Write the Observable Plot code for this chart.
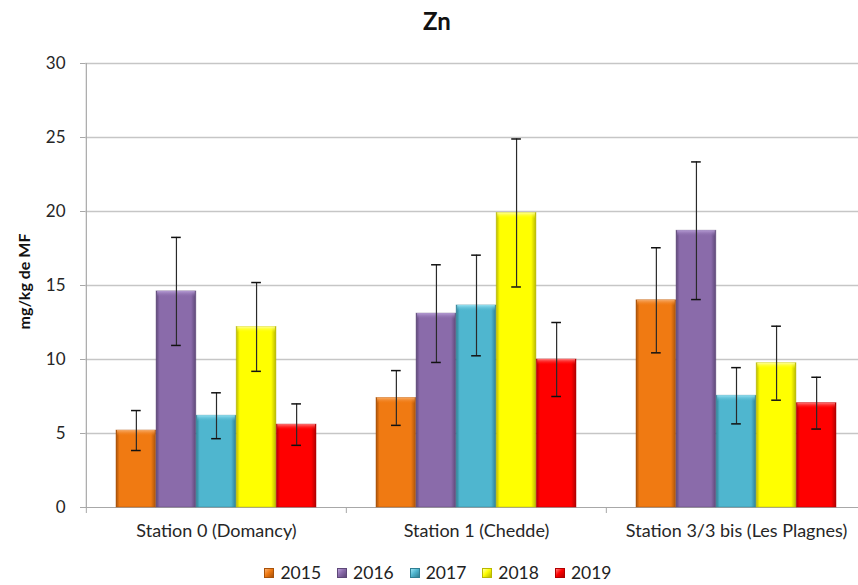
<!DOCTYPE html>
<html>
<head>
<meta charset="utf-8">
<script src="https://cdn.jsdelivr.net/npm/d3@7"></script>
<script src="https://cdn.jsdelivr.net/npm/@observablehq/plot@0.6"></script>
<style>
  html, body { margin: 0; padding: 0; background: #fff; }
  #wrap { position: relative; width: 858px; height: 585px; overflow: hidden; font-family: Lato, "Open Sans", sans-serif; }
  #title { position: absolute; left: 0; top: 6px; width: 874px; text-align: center; font-weight: bold; font-size: 24px; color: #111; }
  #chart { position: absolute; left: 0; top: 0; }
  #legend { position: absolute; left: 0; top: 562px; width: 876px; display: flex; justify-content: center; gap: 0; font-size: 17.5px; color: #222; }
  .item { display: flex; align-items: center; margin: 0 8px; }
  .sw { width: 10px; height: 10px; margin-right: 6px; box-sizing: border-box; }
</style>
</head>
<body>
<div id="wrap">
  <div id="chart"></div>
  <div id="title">Zn</div>
  <div id="legend"></div>
</div>
<script>
// ---- data ----
const stations = ["Station 0 (Domancy)", "Station 1 (Chedde)", "Station 3/3 bis (Les Plagnes)"];
const years = ["2015", "2016", "2017", "2018", "2019"];
const mean2015 = [5.2, 7.4, 14.0];
const mean2016 = [14.6, 13.1, 18.7];
const mean2017 = [6.2, 13.65, 7.55];
const mean2018 = [12.2, 19.9, 9.75];
const mean2019 = [5.6, 10.0, 7.05];
const err2015 = [1.35, 1.85, 3.55];
const err2016 = [3.65, 3.3, 4.65];
const err2017 = [1.55, 3.4, 1.9];
const err2018 = [3.0, 5.0, 2.5];
const err2019 = [1.4, 2.5, 1.75];
const yTicks = [0, 5, 10, 15, 20, 25, 30];
const yLabel = "mg/kg de MF";

// ---- styles ----
const colors = {"2015": "#F07A12", "2016": "#8A6BAA", "2017": "#4FB6CF", "2018": "#FFFF00", "2019": "#FF0000"};
const darks  = {"2015": "#A8520A", "2016": "#5E4878", "2017": "#2F7F93", "2018": "#B8B800", "2019": "#B00000"};
const lights = {"2015": "#F8B070", "2016": "#B9A0D8", "2017": "#9BE4F4", "2018": "#FFFFA8", "2019": "#FF8080"};

const means = [mean2015, mean2016, mean2017, mean2018, mean2019];
const errs = [err2015, err2016, err2017, err2018, err2019];
const rowsByYear = years.map((year, i) =>
  stations.map((station, j) => ({station, year, mean: means[i][j], err: errs[i][j]})));

const x0 = 85, x1 = 866;
const step = (x1 - x0) / stations.length;
const outer = 30;
const barW = (step - 2 * outer) / years.length;
const capHalf = 5;

const marks = [];
marks.push(Plot.ruleY(yTicks.filter(d => d > 0), {stroke: "#c6c6c6", strokeWidth: 1.6}));
marks.push(Plot.ruleY([0], {stroke: "#a8a8a8", strokeWidth: 1.2}));
marks.push(Plot.ruleX([stations[0]], {x: d => d, dx: -step / 2, y1: 0, y2: 30, stroke: "#a8a8a8", strokeWidth: 1.2}));
marks.push(Plot.ruleX(stations, {x: d => d, dx: -step / 2, y1: 0, y2: 0, insetBottom: -6, stroke: "#a8a8a8", strokeWidth: 1}));

years.forEach((year, i) => {
  const L = outer + barW * i;
  const R = step - outer - barW * (i + 1);
  const rows = rowsByYear[i];
  marks.push(Plot.barY(rows, {x: "station", y: "mean", fill: `url(#g${year})`, stroke: darks[year], strokeWidth: 0.8, strokeOpacity: 0.6, insetLeft: L, insetRight: R}));
  marks.push(Plot.barY(rows, {x: "station", y1: "mean", y2: "mean", insetBottom: -6, fill: `url(#t${year})`, insetLeft: L + 1, insetRight: R + 1}));
});
years.forEach((year, i) => {
  const L = outer + barW * i;
  const R = step - outer - barW * (i + 1);
  const dx = outer + barW * (i + 0.5) - step / 2;
  const rows = rowsByYear[i];
  marks.push(Plot.ruleX(rows, {x: "station", y1: d => d.mean - d.err, y2: d => d.mean + d.err, dx, stroke: "#2a2a2a", strokeWidth: 1.2}));
  marks.push(Plot.tickY(rows, {x: "station", y: d => d.mean - d.err, insetLeft: L + barW / 2 - capHalf, insetRight: R + barW / 2 - capHalf, stroke: "#111", strokeWidth: 1.5}));
  marks.push(Plot.tickY(rows, {x: "station", y: d => d.mean + d.err, insetLeft: L + barW / 2 - capHalf, insetRight: R + barW / 2 - capHalf, stroke: "#111", strokeWidth: 1.5}));
});

marks.push(Plot.axisY({ticks: yTicks, tickSize: 5, tickPadding: 15, fontSize: 17, stroke: "#a8a8a8", fill: "#262626", label: null}));
marks.push(Plot.axisX({tickSize: 0, tickPadding: 17, fontSize: 18, fill: "#262626", label: null}));
marks.push(Plot.text([yLabel], {frameAnchor: "left", dx: -61, dy: -4, rotate: -90, textAnchor: "middle", fontSize: 16, fontWeight: "bold", fill: "#111"}));

const svg = Plot.plot({
  width: 858,
  height: 550,
  marginLeft: 85,
  marginRight: 0,
  marginTop: 63,
  marginBottom: 43,
  style: {fontFamily: "Lato, 'Open Sans', sans-serif", background: "white", color: "#262626"},
  x: {type: "band", domain: stations, range: [x0, x1], padding: 0},
  y: {domain: [0, 30], range: [507, 63]},
  marks
});

// gradient defs for bevelled bars
const defs = d3.select(svg).insert("defs", ":first-child");
years.forEach(year => {
  const g = defs.append("linearGradient").attr("id", `g${year}`).attr("x1", 0).attr("x2", 1).attr("y1", 0).attr("y2", 0);
  g.append("stop").attr("offset", "0%").attr("stop-color", darks[year]);
  g.append("stop").attr("offset", "9%").attr("stop-color", colors[year]);
  g.append("stop").attr("offset", "88%").attr("stop-color", colors[year]);
  g.append("stop").attr("offset", "100%").attr("stop-color", darks[year]);
  const t = defs.append("linearGradient").attr("id", `t${year}`).attr("x1", 0).attr("x2", 0).attr("y1", 0).attr("y2", 1);
  t.append("stop").attr("offset", "0%").attr("stop-color", lights[year]).attr("stop-opacity", 0.95);
  t.append("stop").attr("offset", "100%").attr("stop-color", colors[year]).attr("stop-opacity", 0);
});
document.getElementById("chart").appendChild(svg);

// legend
const legend = document.getElementById("legend");
years.forEach(year => {
  const item = document.createElement("div");
  item.className = "item";
  const sw = document.createElement("span");
  sw.className = "sw";
  sw.style.background = `linear-gradient(135deg, ${lights[year]} 0%, ${colors[year]} 45%, ${darks[year]} 100%)`;
  sw.style.border = `1px solid ${darks[year]}`;
  const lab = document.createElement("span");
  lab.textContent = year;
  item.appendChild(sw);
  item.appendChild(lab);
  legend.appendChild(item);
});
</script>
</body>
</html>
